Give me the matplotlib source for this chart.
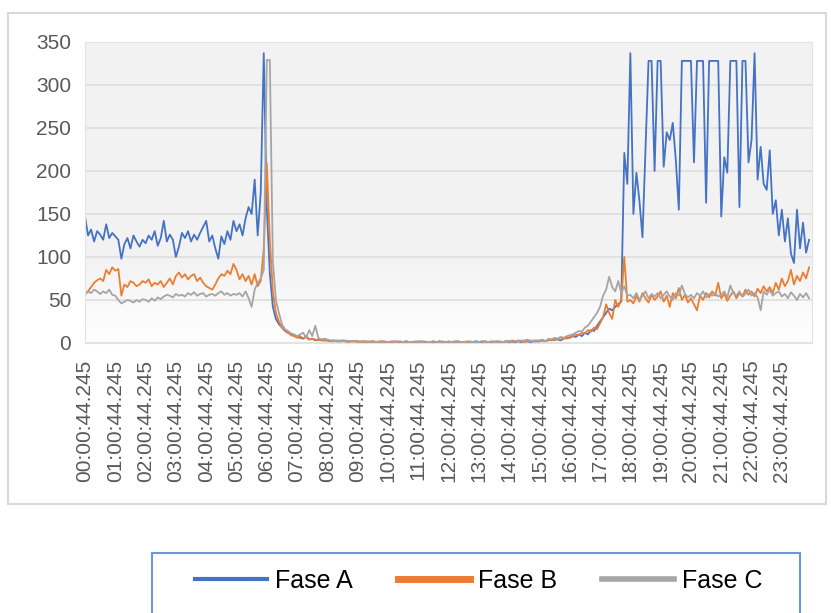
import numpy as np
import matplotlib
matplotlib.use('Agg')
import matplotlib.pyplot as plt
from matplotlib.colors import LinearSegmentedColormap
from matplotlib.lines import Line2D
from matplotlib.patches import Rectangle

plt.rcParams['font.family'] = ['Liberation Sans', 'DejaVu Sans']

# one reading every 6 minutes (10 per hour)
fase_a = [
    147, 125, 132, 118, 130, 126, 120, 138, 122, 128,
    124, 120, 98, 115, 122, 110, 125, 118, 112, 120,
    116, 125, 120, 130, 113, 122, 142, 118, 126, 120,
    100, 112, 128, 122, 130, 118, 126, 120, 128, 135,
    142, 118, 125, 110, 98, 124, 115, 130, 120, 142,
    130, 138, 125, 145, 158, 150, 190, 125, 175, 337,
    158, 81, 42, 28, 22, 18, 14, 12, 10, 9,
    7, 6, 5, 8, 4, 5, 3, 4, 3, 3,
    3, 2, 3, 2, 2, 3, 2, 2, 2, 2,
    2, 1, 2, 1, 1, 2, 1, 1, 2, 1,
    1, 1, 2, 1, 1, 1, 2, 1, 1, 1,
    1, 2, 1, 1, 1, 1, 1, 2, 1, 1,
    1, 1, 1, 2, 1, 1, 1, 1, 1, 2,
    1, 1, 2, 1, 1, 1, 2, 1, 1, 2,
    1, 2, 1, 2, 1, 3, 2, 1, 2, 2,
    2, 3, 2, 4, 3, 5, 4, 3, 5, 6,
    6, 8, 7, 10, 8, 12, 10, 15, 14, 20,
    25, 30, 35, 40, 38, 42, 45, 48, 221, 185,
    337, 150, 198, 165, 123, 224, 328, 328, 200, 328,
    328, 205, 245, 236, 256, 213, 155, 328, 328, 328,
    328, 210, 328, 328, 328, 163, 328, 328, 328, 328,
    147, 216, 198, 328, 328, 328, 158, 328, 328, 210,
    236, 337, 190, 228, 185, 178, 224, 150, 166, 125,
    155, 118, 145, 104, 93, 155, 110, 140, 105, 120,
]
fase_b = [
    58, 60, 65, 70, 73, 75, 72, 85, 80, 88,
    84, 86, 55, 68, 65, 72, 70, 66, 68, 72,
    70, 74, 66, 70, 68, 72, 65, 70, 75, 68,
    78, 82, 76, 80, 74, 78, 80, 72, 76, 70,
    66, 64, 62, 68, 75, 80, 78, 84, 80, 92,
    85, 74, 80, 72, 78, 68, 80, 66, 72, 110,
    209, 120, 60, 35, 25, 18, 15, 12, 9, 8,
    6, 8, 5, 7, 4, 5, 4, 3, 4, 3,
    3, 2, 2, 3, 2, 2, 2, 1, 2, 2,
    1, 2, 1, 1, 2, 1, 1, 1, 2, 1,
    1, 1, 1, 2, 1, 1, 1, 1, 1, 1,
    2, 1, 1, 1, 1, 2, 1, 1, 1, 1,
    1, 1, 2, 1, 1, 1, 1, 2, 1, 1,
    1, 2, 1, 1, 1, 2, 1, 1, 1, 2,
    2, 1, 2, 3, 2, 1, 2, 3, 2, 2,
    2, 3, 2, 3, 4, 3, 5, 4, 6, 5,
    7, 8, 10, 9, 12, 11, 15, 13, 18, 16,
    23, 30, 45, 35, 28, 50, 42, 50, 100, 48,
    50, 46, 55, 48, 58, 52, 47, 56, 50, 54,
    60, 48, 55, 42, 58, 52, 64, 50, 56, 47,
    52, 45, 38, 55, 50, 58, 53, 60, 55, 70,
    52, 57, 49, 55, 60, 52, 58, 54, 62, 56,
    60, 54, 63, 58, 66, 60, 65, 58, 70, 62,
    75, 66, 72, 85, 68, 78, 72, 82, 75, 88,
]
fase_c = [
    56, 60, 58, 62, 60, 57, 60, 58, 62, 56,
    55, 50, 46, 48, 50, 49, 47, 50, 48, 51,
    50, 48, 52, 49, 53, 51, 54, 56, 55, 53,
    57, 55, 56, 54, 58, 56, 59, 55, 57, 58,
    54, 56, 57, 55, 58, 60, 56, 58, 55, 57,
    56, 58, 54, 60, 52, 42, 62, 70, 75, 85,
    329, 329, 95, 50, 35, 22, 16, 14, 11, 10,
    8, 10, 12, 6, 15, 8, 20, 6, 4, 5,
    4, 3, 3, 2, 3, 2, 3, 2, 2, 2,
    2, 1, 2, 2, 1, 2, 1, 2, 1, 2,
    1, 2, 1, 1, 2, 1, 2, 1, 1, 2,
    1, 1, 2, 1, 1, 2, 1, 1, 2, 1,
    2, 1, 1, 2, 1, 1, 2, 1, 1, 1,
    1, 2, 1, 1, 2, 1, 1, 2, 1, 2,
    2, 3, 2, 2, 3, 2, 4, 2, 3, 3,
    3, 4, 2, 5, 4, 6, 5, 7, 6, 8,
    9, 10, 12, 14, 13, 18, 20, 25, 30, 35,
    42, 55, 62, 77, 65, 60, 72, 58, 66, 55,
    56, 52, 58, 50, 55, 60, 52, 57, 54, 58,
    52, 56, 60, 54, 50, 58, 55, 67, 57, 53,
    56, 52, 58, 55, 60, 53, 57, 55, 58, 54,
    56, 60, 53, 67, 58, 55, 60, 54, 57, 62,
    55, 58, 53, 38, 60, 56, 62, 55, 58, 60,
    54, 57, 52, 59, 55, 50, 57, 53, 58, 52,
]
tick_labels = ['%02d:00:44.245' % h for h in range(24)]

fig = plt.figure(figsize=(8.31, 6.13), dpi=100)
ax = fig.add_axes([0.1023, 0.4405, 0.875, 0.491])

x = np.arange(len(fase_a))
ax.set_facecolor('#F2F2F2')
cmap = LinearSegmentedColormap.from_list('fade', ['#FFFFFF', '#F2F2F2'])
ax.imshow(np.linspace(0, 1, 64).reshape(-1, 1), extent=[0, 240, 0, 100],
          aspect='auto', cmap=cmap, origin='lower', zorder=0)

ax.plot(x, fase_a, color='#4472C4', lw=1.3, label='Fase A')
ax.plot(x, fase_b, color='#ED7D31', lw=1.3, label='Fase B')
ax.plot(x, fase_c, color='#A5A5A5', lw=1.3, label='Fase C')

ax.set_xlim(0, 240)
ax.set_ylim(0, 350)
ax.set_yticks(range(0, 351, 50))
ax.set_xticks(range(0, 240, 10))
ax.set_xticklabels(tick_labels, rotation=90)
ax.tick_params(axis='both', length=0, labelsize=15, labelcolor='#595959')
ax.tick_params(axis='x', pad=12)
ax.tick_params(axis='y', pad=10)
ax.yaxis.grid(True, color='#E0E0E0', lw=1.3)
ax.set_axisbelow(True)
for s in ax.spines.values():
    s.set_color('#E3E3E3')

# chart border and legend box
fig.patches.append(Rectangle((0.0096, 0.178), 0.984, 0.801, transform=fig.transFigure,
                             fill=False, edgecolor='#D9D9D9', lw=1.5))
fig.patches.append(Rectangle((0.183, -0.05), 0.78, 0.148, transform=fig.transFigure,
                             fill=False, edgecolor='#6E97D9', lw=1.5))

handles = [Line2D([], [], color='#4472C4', lw=3),
           Line2D([], [], color='#ED7D31', lw=5),
           Line2D([], [], color='#A5A5A5', lw=4)]
fig.legend(handles, ['Fase A', 'Fase B', 'Fase C'], loc='center', ncol=3,
           bbox_to_anchor=(0.576, 0.052), frameon=False, fontsize=18,
           handlelength=2.9, handletextpad=0.3, columnspacing=1.8)

fig.savefig('out.png', dpi=100)
